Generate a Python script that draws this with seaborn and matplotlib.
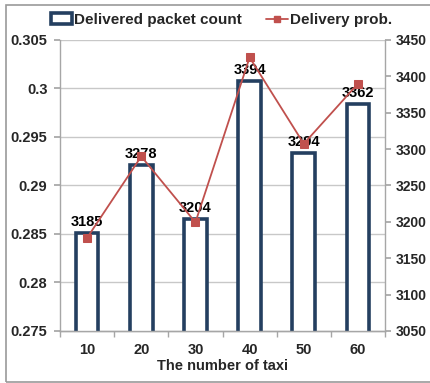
import matplotlib
matplotlib.use("Agg")
import matplotlib.pyplot as plt
import seaborn as sns
import pandas as pd
from matplotlib.patches import Rectangle
from matplotlib.lines import Line2D

# Data
taxis = ["10", "20", "30", "40", "50", "60"]
packet_count = [3185, 3278, 3204, 3394, 3294, 3362]
delivery_prob = [0.2846, 0.2930, 0.2862, 0.3032, 0.2943, 0.3005]
prob_ticks = [0.275, 0.28, 0.285, 0.29, 0.295, 0.3, 0.305]
prob_tick_labels = ["0.275", "0.28", "0.285", "0.29", "0.295", "0.3", "0.305"]
count_ticks = [3050, 3100, 3150, 3200, 3250, 3300, 3350, 3400, 3450]

sns.set_theme(style="white")
plt.rcParams["font.family"] = ["Liberation Sans", "DejaVu Sans"]
plt.rcParams["font.weight"] = "bold"

NAVY = "#243F60"
RED = "#C0504D"
GRID = "#C8C8C8"
AXC = "#A6A6A6"

df = pd.DataFrame({"taxi": taxis, "count": packet_count, "prob": delivery_prob,
                   "pos": range(len(taxis))})

fig = plt.figure(figsize=(4.30, 3.83), dpi=100)
ax = fig.add_axes([0.1395, 0.1358, 0.7560, 0.7598])   # left axis: grid + ticks
ax_bar = ax.twinx()                                      # right axis: bars
ax_line = ax.twinx()                                     # line on left scale

# grid on the left-scale axis (bottom layer)
ax.set_ylim(0.275, 0.305)
ax.set_yticks(prob_ticks)
ax.set_yticklabels(prob_tick_labels)
ax.set_xlim(-0.5, len(taxis) - 0.5)
for t in prob_ticks[1:]:
    ax.axhline(t, color=GRID, lw=1.0, zorder=0)

# bars on the right axis
sns.barplot(data=df, x="taxi", y="count", ax=ax_bar, color="white",
            edgecolor=NAVY, linewidth=2.6, width=0.42, zorder=2)
ax_bar.set_ylim(3050, 3450)
ax_bar.set_yticks(count_ticks)
ax_bar.set_xlim(-0.5, len(taxis) - 0.5)
ax_bar.set_xlabel("")
ax_bar.set_ylabel("")
for p, v in zip(df["pos"], packet_count):
    ax_bar.annotate(f"{v}", (p, v), xytext=(0, 3), textcoords="offset points",
                    ha="center", va="bottom", fontsize=10.5, fontweight="bold",
                    color="black")

# delivery probability line
sns.lineplot(data=df, x="pos", y="prob", ax=ax_line, color=RED, lw=1.3,
             marker="s", markersize=6, markeredgecolor=RED, markerfacecolor=RED)
ax_line.set_ylim(0.275, 0.305)
ax_line.set_xlim(-0.5, len(taxis) - 0.5)
ax_line.set_yticks([])
ax_line.set_xlabel("")
ax_line.set_ylabel("")
for s in ax_line.spines.values():
    s.set_visible(False)

# axis styling
for a in (ax, ax_bar):
    a.spines["top"].set_visible(False)
    for side in ("left", "right", "bottom"):
        a.spines[side].set_color(AXC)
        a.spines[side].set_linewidth(1.0)
ax.spines["right"].set_visible(False)
ax_bar.spines["left"].set_visible(False)

ax.tick_params(axis="y", left=True, length=4, color=AXC, labelsize=10.5, pad=5)
ax_bar.tick_params(axis="y", right=True, length=4, color=AXC, labelsize=10, pad=4)
ax_bar.tick_params(axis="x", bottom=False, labelbottom=False)
ax.set_xticks(range(len(taxis)))
ax.set_xticklabels(taxis)
ax.set_xticks([i - 0.5 for i in range(len(taxis) + 1)], minor=True)
ax.tick_params(axis="x", which="major", bottom=False, labelsize=10.5, pad=3)
ax.tick_params(axis="x", which="minor", bottom=True, length=4, color=AXC)
for lbl in ax.get_xticklabels() + ax.get_yticklabels() + ax_bar.get_yticklabels():
    lbl.set_fontweight("bold")
ax.set_xlabel("The number of taxi", fontsize=10.5, fontweight="bold", labelpad=1)

# legend above the plot area
handles = [
    Rectangle((0, 0), 1, 1, facecolor="white", edgecolor=NAVY, linewidth=2.6),
    Line2D([0], [0], color=RED, lw=1.3, marker="s", markersize=5,
           markerfacecolor=RED, markeredgecolor=RED),
]
fig.legend(handles, ["Delivered packet count", "Delivery prob."],
           loc="center", bbox_to_anchor=(0.515, 0.948), ncol=2, frameon=False,
           prop={"size": 11, "weight": "bold"}, handlelength=1.4,
           handletextpad=0.15, columnspacing=1.6)

# chart border (right edge runs past the image)
fig.patches.append(Rectangle((6 / 430, 1 / 383), 440 / 430, 377 / 383,
                             transform=fig.transFigure, fill=False,
                             edgecolor="#9A9A9A", linewidth=1.2))

fig.savefig("out.png", dpi=100)
